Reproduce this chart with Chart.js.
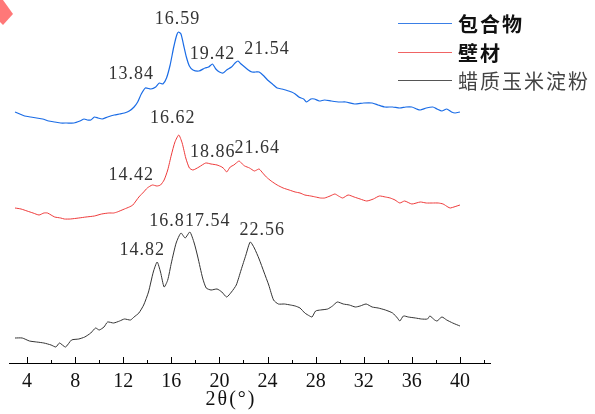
<!DOCTYPE html>
<html>
<head>
<meta charset="utf-8">
<script src="https://cdn.jsdelivr.net/npm/chart.js@4.4.1/dist/chart.umd.min.js"></script>
<style>
  html, body { margin: 0; padding: 0; background: #fff; }
  #wrap { width: 595px; height: 414px; }
</style>
</head>
<body>
<div id="wrap"><canvas id="xrd" width="595" height="414"></canvas></div>
<script>
// XRD patterns (2θ in degrees, intensity in a.u., curves stacked)
const SERIES_NAMES = ['包合物', '壁材', '蜡质玉米淀粉'];

const complexTheta = [3.0,3.4,3.8,4.3,4.8,5.3,5.8,6.3,6.8,7.3,7.9,8.4,8.75,9.0,9.3,9.6,9.9,10.25,10.7,11.25,11.7,12.1,12.5,12.9,13.2,13.5,13.84,14.3,14.7,15.0,15.3,15.6,15.9,16.2,16.45,16.59,16.8,17.0,17.25,17.5,17.8,18.3,18.8,19.1,19.42,19.7,20.0,20.3,20.6,21.0,21.3,21.54,21.8,22.1,22.4,22.7,23.0,23.3,23.7,24.0,24.4,24.8,25.2,25.5,26.0,26.3,26.6,27.0,27.25,27.6,27.9,28.3,28.75,29.3,30.0,30.5,31.25,32.0,32.7,33.2,33.75,34.4,35.0,35.5,36.0,36.4,36.7,37.2,37.75,38.1,38.5,38.9,39.3,39.6,40.0];
const complexIntensity = [251,249,247,246,245,244,242,241,240,240,240,242,244,243,243,246,245,244,246,248,249,250,252,256,261,269,275,274,276,280,279,285,298,316,328,331,329,319,306,297,293,292,295,296,299,294,291,290,293,296,300,302,299,296,293,291,291,291,287,283,279,275,274,273,271,269,266,264,261,264,264,262,263,262,261,261,259,260,260,258,256,256,255,256,256,254,253,255,256,254,252,254,251,250,251];

const wallTheta = [3.0,3.5,4.0,4.5,5.0,5.4,5.7,6.0,6.3,6.8,7.1,7.6,8.3,8.9,9.6,10.2,10.8,11.2,11.5,12.1,12.5,12.8,13.3,13.7,14.0,14.42,14.8,15.1,15.4,15.7,16.0,16.3,16.62,16.9,17.2,17.5,17.8,18.3,18.86,19.3,19.8,20.2,20.4,20.6,20.9,21.2,21.4,21.64,21.9,22.1,22.5,22.9,23.1,23.3,23.6,23.9,24.3,24.8,25.3,25.8,26.3,26.7,27.1,27.6,28.0,28.4,28.75,29.2,29.6,29.9,30.25,30.7,31.2,31.7,32.25,32.8,33.3,33.8,34.2,34.6,35.0,35.4,36.0,36.7,37.2,37.7,38.2,38.6,39.0,39.2,40.0];
const wallIntensity = [155,154,152,150,148,150,150,148,146,145,144,144,145,146,147,149,150,150,151,154,156,158,166,171,175,178,177,178,183,193,208,221,228,220,205,195,193,196,200,199,198,196,194,191,196,198,200,202,199,197,195,192,193,194,190,186,182,178,175,173,171,170,168,167,166,165,165,167,169,167,165,168,166,164,162,164,167,166,165,163,160,162,159,161,160,160,160,159,156,155,158];

const starchTheta = [3.0,3.6,4.2,4.8,5.4,6.0,6.4,6.7,7.2,7.7,8.3,8.8,9.3,9.7,10.0,10.4,10.7,11.2,11.7,12.1,12.6,12.9,13.3,13.7,14.1,14.5,14.82,15.1,15.4,15.7,16.0,16.4,16.8,17.15,17.54,17.9,18.2,18.6,18.9,19.3,19.8,20.2,20.6,21.0,21.4,21.8,22.2,22.56,22.9,23.3,23.7,24.1,24.5,24.9,25.4,25.9,26.3,26.7,27.1,27.5,27.7,28.0,28.4,29.0,29.4,29.8,30.3,30.8,31.3,31.7,32.2,32.7,33.2,33.8,34.4,34.8,35.0,35.3,35.7,36.3,36.8,37.3,37.5,37.9,38.1,38.5,38.9,39.4,40.0];
const starchIntensity = [25,25,22,21,20,18,16,20,16,23,24,26,30,35,33,36,41,40,42,44,43,46,50,58,71,91,101,91,76,83,100,120,130,125,131,120,106,85,75,73,74,71,66,71,78,93,108,121,115,104,91,78,63,59,59,58,57,55,50,47,46,52,53,54,57,61,59,58,56,57,59,56,55,53,50,45,42,47,46,45,44,44,47,43,42,46,43,40,37];

// Peak positions annotated on each pattern
const complexPeaks = [13.84, 16.59, 19.42, 21.54];
const wallPeaks = [14.42, 16.62, 18.86, 21.64];
const starchPeaks = [14.82, 16.8, 17.54, 22.56];

// Axis ticks
const majorTicks = [4, 8, 12, 16, 20, 24, 28, 32, 36, 40];
const minorTicks = [6, 10, 14, 18, 22, 26, 30, 34, 38, 42];

// label placement relative to each peak apex (px)
const PEAK_LABEL_SHIFT = [
  [[-14, -14], [-1, -13], [0, -10], [29, -12]],
  [[-21, -10], [-6, -17], [7, -11], [18, -13]],
  [[-15, -12], [-14, -12], [18, -11], [12, -12]]
];

const COLORS = ['#1a6ce6', '#ee3a3a', '#333333'];
const LEGEND_COLORS = ['#3a7fe6', '#f06464', '#555555'];

function points(xs, ys) {
  return xs.map((x, i) => ({ x: x, y: ys[i] }));
}

const PEAKS = [complexPeaks, wallPeaks, starchPeaks];

const decorations = {
  id: 'decorations',
  afterDraw(chart) {
    const ctx = chart.ctx;
    const xs = chart.scales.x;
    const ys = chart.scales.y;
    const base = chart.chartArea.bottom;
    ctx.save();

    // inward tick marks on the 2θ axis
    ctx.strokeStyle = '#000';
    ctx.lineWidth = 1;
    ctx.beginPath();
    majorTicks.forEach(v => {
      const px = Math.round(xs.getPixelForValue(v)) + 0.5;
      ctx.moveTo(px, base); ctx.lineTo(px, base - 6);
    });
    minorTicks.forEach(v => {
      const px = Math.round(xs.getPixelForValue(v)) + 0.5;
      ctx.moveTo(px, base); ctx.lineTo(px, base - 3);
    });
    ctx.stroke();

    // peak annotations
    ctx.font = '18px "Liberation Serif", serif';
    ctx.fillStyle = '#333';
    ctx.textAlign = 'center';
    ctx.textBaseline = 'middle';
    ctx.letterSpacing = '1px';
    chart.data.datasets.forEach((ds, i) => {
      PEAKS[i].forEach((p, j) => {
        const pt = ds.data.find(d => d.x === p);
        const s = PEAK_LABEL_SHIFT[i][j];
        ctx.fillText(String(p), xs.getPixelForValue(p) + s[0], ys.getPixelForValue(pt.y) + s[1]);
      });
    });

    // legend
    ctx.letterSpacing = '2px';
    ctx.textAlign = 'left';
    const rows = [23, 52, 80];
    chart.data.datasets.forEach((ds, i) => {
      const yy = rows[i] + 0.5;
      ctx.strokeStyle = LEGEND_COLORS[i];
      ctx.lineWidth = 1;
      ctx.beginPath();
      ctx.moveTo(398, yy); ctx.lineTo(452, yy);
      ctx.stroke();
      ctx.font = (i < 2 ? 'bold ' : '') + '20px "Noto Sans CJK SC", sans-serif';
      ctx.fillStyle = i < 2 ? '#111' : '#444';
      ctx.fillText(ds.label, 458, rows[i] + 1);
    });

    // axis title
    ctx.letterSpacing = '2px';
    ctx.font = '20px "Liberation Serif", serif';
    ctx.fillStyle = '#111';
    ctx.textAlign = 'center';
    ctx.fillText('2θ(°)', 231, 400);

    // corner mark
    ctx.fillStyle = '#ff7878';
    ctx.beginPath();
    ctx.moveTo(0, 0); ctx.lineTo(3, 0); ctx.lineTo(13, 14); ctx.lineTo(3, 25); ctx.lineTo(0, 22);
    ctx.closePath();
    ctx.fill();

    ctx.restore();
  }
};

new Chart(document.getElementById('xrd'), {
  type: 'line',
  data: {
    datasets: [
      { label: SERIES_NAMES[0], data: points(complexTheta, complexIntensity), borderColor: COLORS[0], borderWidth: 1.2 },
      { label: SERIES_NAMES[1], data: points(wallTheta, wallIntensity), borderColor: COLORS[1] },
      { label: SERIES_NAMES[2], data: points(starchTheta, starchIntensity), borderColor: COLORS[2] }
    ]
  },
  options: {
    responsive: false,
    animation: false,
    devicePixelRatio: 1,
    layout: { padding: { left: 9, right: 105, top: 0, bottom: 13 } },
    elements: {
      line: { borderWidth: 1, tension: 0.2, fill: false },
      point: { radius: 0 }
    },
    plugins: { legend: { display: false }, tooltip: { enabled: false } },
    scales: {
      x: {
        type: 'linear',
        min: 2.5,
        max: 42.5,
        afterBuildTicks: (scale) => { scale.ticks = majorTicks.map(v => ({ value: v })); },
        grid: { display: false, drawTicks: false },
        border: { display: true, color: '#000', width: 1 },
        ticks: {
          autoSkip: false,
          maxRotation: 0,
          padding: 7,
          color: '#111',
          font: { family: '"Liberation Serif", serif', size: 20 }
        }
      },
      y: {
        display: false,
        min: 0,
        max: 363
      }
    }
  },
  plugins: [decorations]
});
</script>
</body>
</html>
